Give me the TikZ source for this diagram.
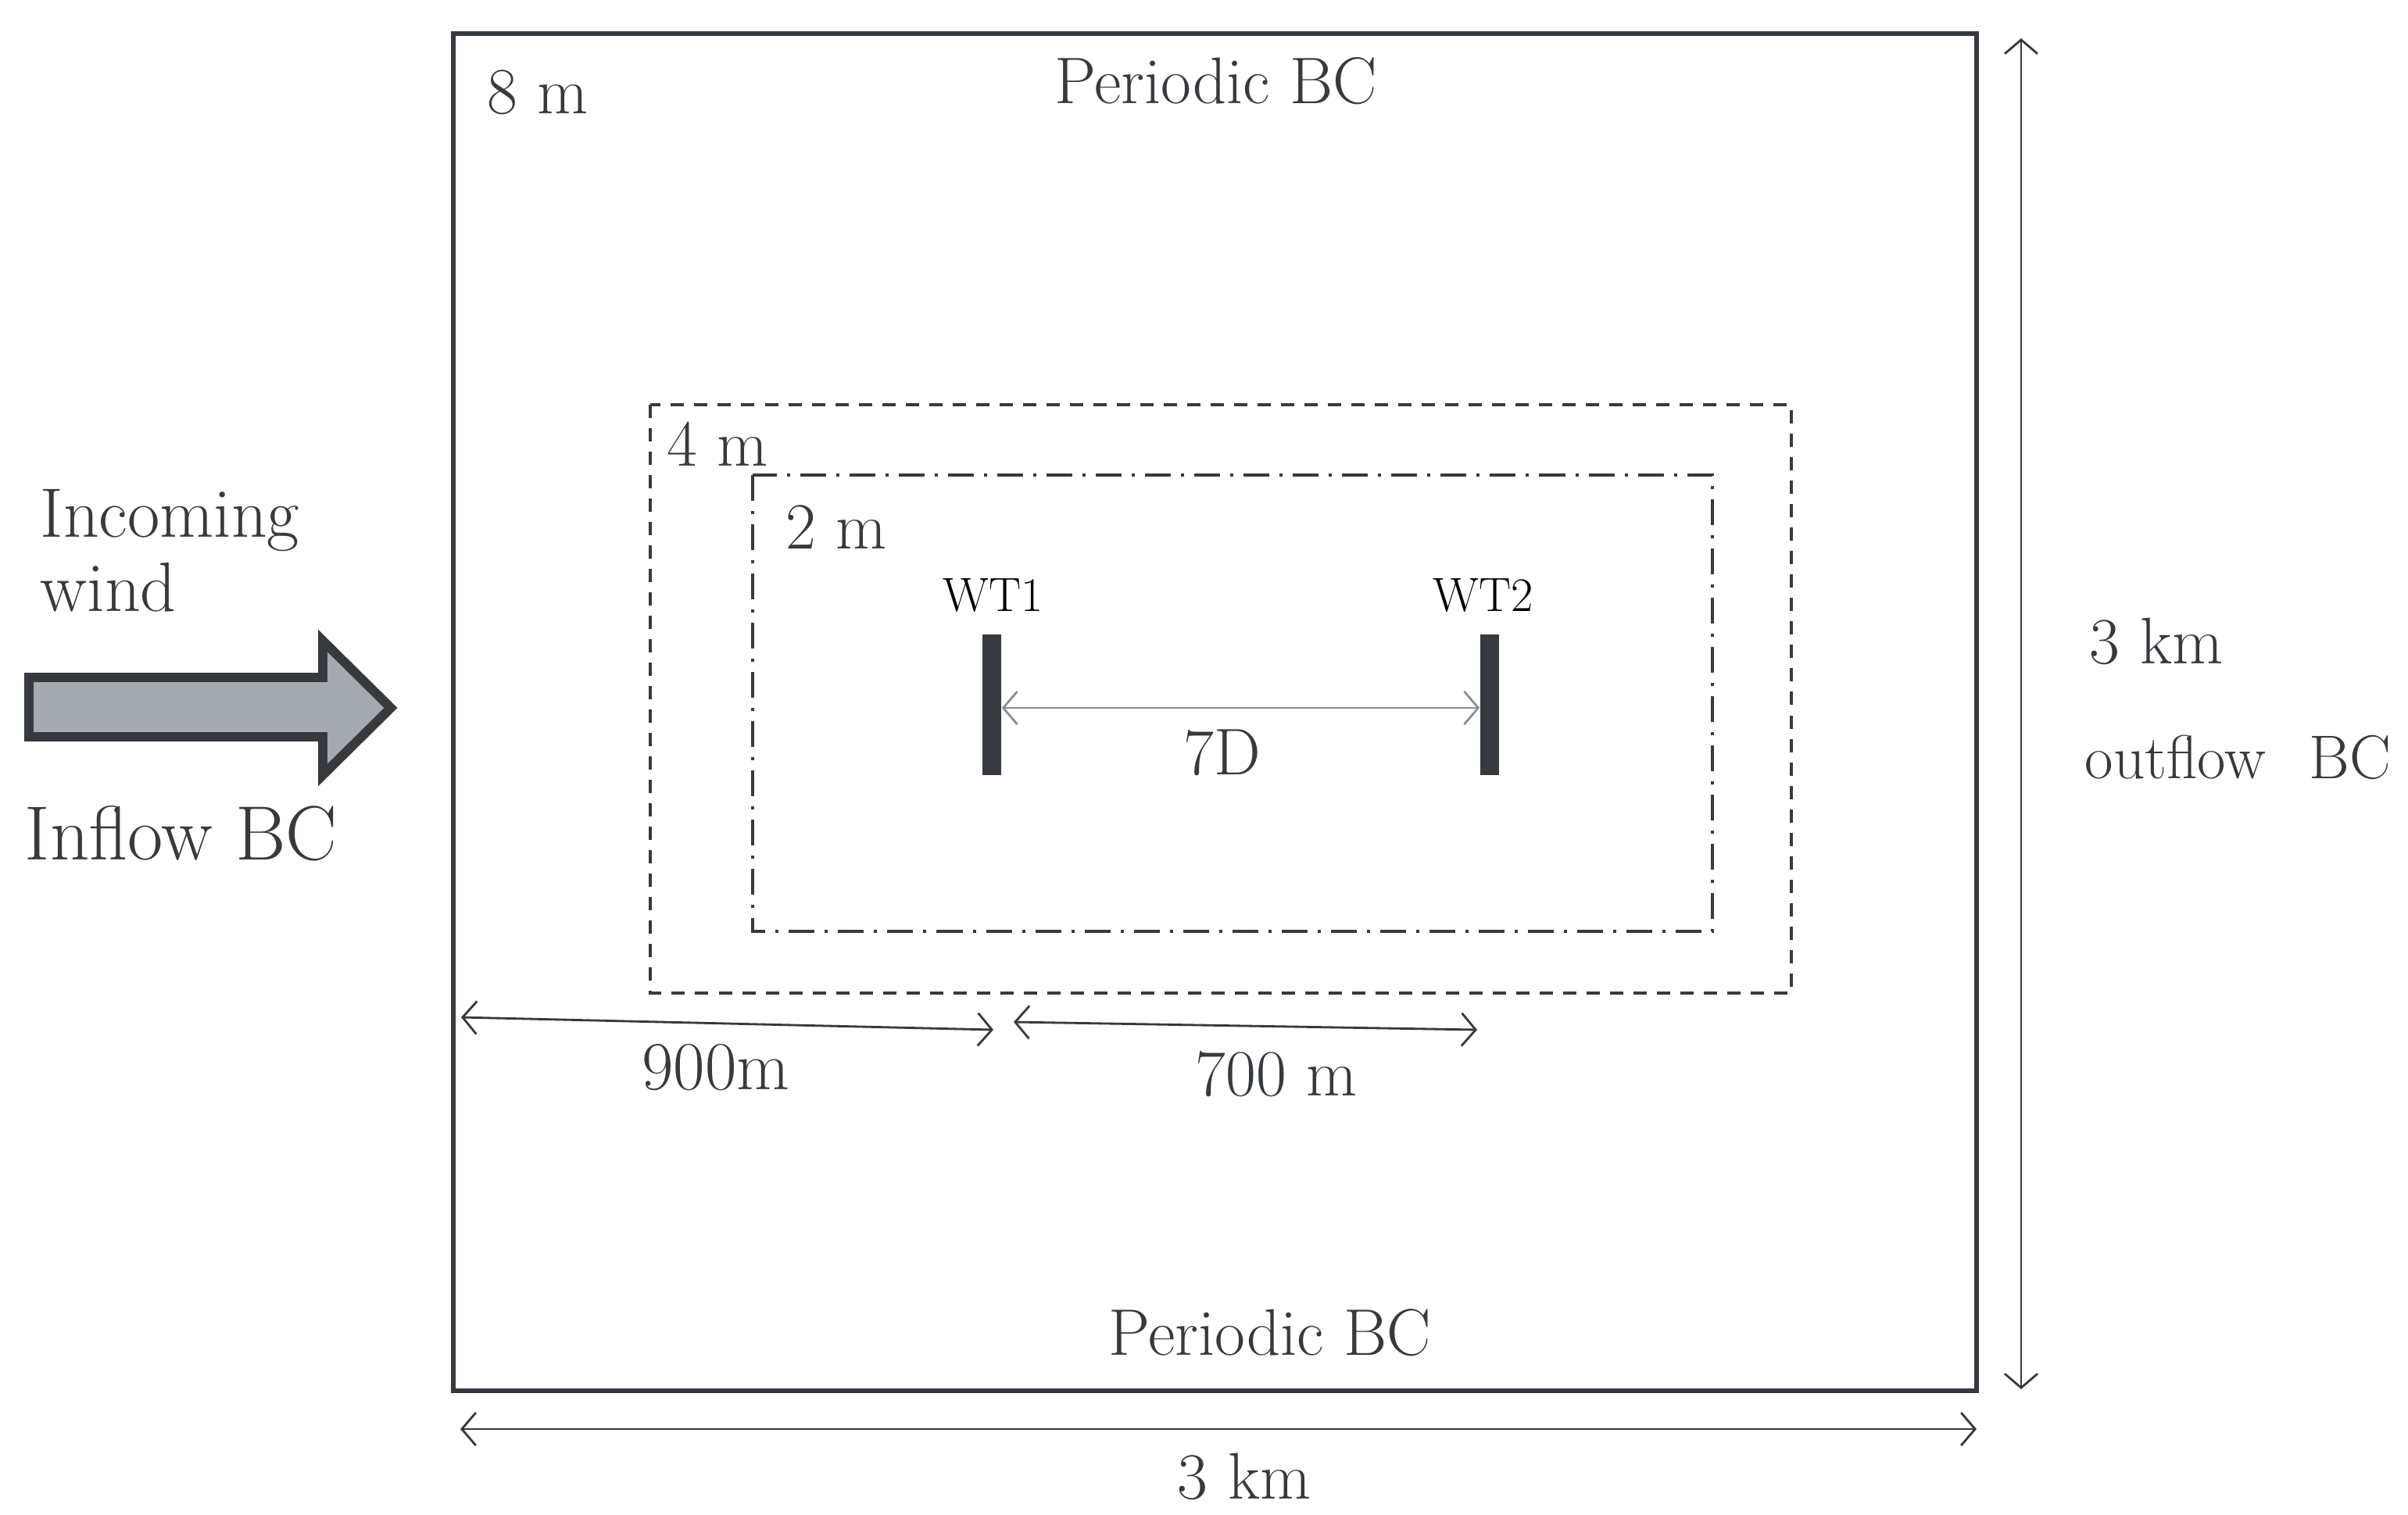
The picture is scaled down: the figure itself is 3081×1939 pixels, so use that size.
\documentclass[tikz,border=0pt]{standalone}
\usetikzlibrary{arrows.meta}
\definecolor{darkline}{HTML}{363A3E}
\definecolor{windfill}{HTML}{A5AAB0}
\definecolor{spanline}{HTML}{8C8E90}
\begin{document}
\begin{tikzpicture}[x=0.01cm, y=-0.01cm]
    % Styles
    \tikzset{
        domainbox/.style={draw=darkline, line width=1.8pt},
        zonefour/.style={draw=darkline, line width=0.9pt, dash pattern=on 0.17cm off 0.13cm},
        zonetwo/.style={draw=darkline, line width=0.9pt, dash pattern=on 0.33cm off 0.13cm on 0.04cm off 0.13cm},
        dimline/.style={draw=darkline, line width=0.8pt, {Straight Barb[length=0.18cm,width=0.42cm]}-{Straight Barb[length=0.18cm,width=0.42cm]}},
        txt/.style={font=\fontsize{24}{28}\selectfont, text=darkline, inner sep=0pt},
        turbine/.style={fill=darkline, minimum width=0.24cm, minimum height=1.79cm, inner sep=0pt},
        windarrow/.style={fill=windfill, draw=darkline, line width=3.4pt, miter limit=20}
    }
    \useasboundingbox (0,0) rectangle (3081,1939);

    % --- OUTER DOMAIN ---
    \draw[domainbox] (580,43) rectangle (2529,1780);
    \node[txt, anchor=west] (res8) at (623,118) {8 m};
    \node[txt] (pertop) at (1556,104) {Periodic BC};
    \node[txt] (perbot) at (1625,1706) {Periodic BC};

    % --- REFINED ZONES ---
    \draw[zonefour] (832,518) rectangle (2292,1271);
    \node[txt, anchor=west] (res4) at (853,568) {4 m};
    \draw[zonetwo] (963,608) rectangle (2191,1192);
    \node[txt, anchor=west] (res2) at (1005,675) {2 m};

    % --- TURBINES ---
    \node[turbine] (wt1) at (1269,902) {};
    \node[turbine] (wt2) at (1906,902) {};
    \node[txt, font=\fontsize{17.5}{21}\selectfont, text=black] (wt1lab) at (1271,762) {WT1};
    \node[txt, font=\fontsize{17.5}{21}\selectfont, text=black] (wt2lab) at (1898,762) {WT2};
    \draw[dimline, draw=spanline] ([yshift=-0.04cm]wt1.east) -- ([yshift=-0.04cm]wt2.west);
    \node[txt] (sevenD) at (1564,963) {7D};

    % --- DISTANCES ---
    \coordinate (d9a) at (590,1302);
    \coordinate (d9b) at (1271,1318);
    \coordinate (d7a) at (1297,1308);
    \coordinate (d7b) at (1890,1318);
    \draw[dimline] (d9a) -- (d9b);
    \draw[dimline] (d7a) -- (d7b);
    \node[txt, font=\fontsize{25}{29}\selectfont] (lab900) at (916,1366) {900m};
    \node[txt] (lab700) at (1633,1375) {700 m};

    % --- DOMAIN SIZE ---
    \coordinate (vtop) at (2586,49);
    \coordinate (vbot) at (2586,1778);
    \coordinate (hleft) at (589,1829);
    \coordinate (hright) at (2529,1829);
    \draw[dimline] (vtop) -- (vbot);
    \draw[dimline] (hleft) -- (hright);
    \node[txt] (lenv) at (2759,821) {3 km};
    \node[txt, anchor=west, font=\fontsize{22.5}{26}\selectfont] (outbc) at (2667,969) {outflow\hspace{0.4em} BC};
    \node[txt] (lenh) at (1592,1890) {3 km};

    % --- INCOMING WIND ---
    \draw[windarrow] (37,867) -- (413,867) -- (413,820) -- (500,906) -- (413,992) -- (413,943) -- (37,943) -- cycle;
    \node[txt, anchor=west, align=left, font=\fontsize{25.5}{27}\selectfont] (wind) at (51,705) {Incoming\\wind};
    \node[txt, anchor=west, font=\fontsize{28}{32}\selectfont] (inbc) at (31,1067) {Inflow BC};
\end{tikzpicture}
\end{document}
